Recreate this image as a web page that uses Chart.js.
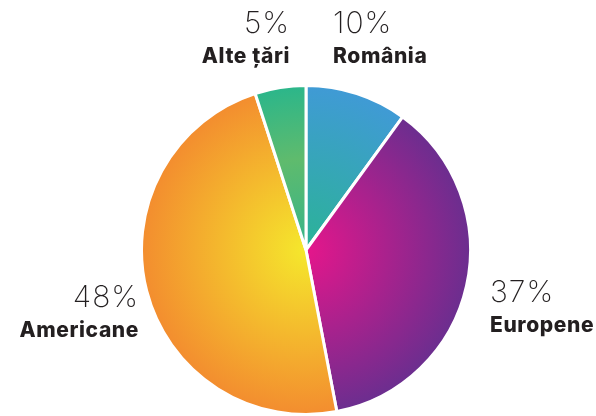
<!DOCTYPE html>
<html>
<head>
<meta charset="utf-8">
<script src="https://cdn.jsdelivr.net/npm/chart.js@4"></script>
<style>
  html, body { margin: 0; padding: 0; background: #fff; }
  #wrap { width: 596px; height: 416px; }
</style>
</head>
<body>
<div id="wrap"><canvas id="pie"></canvas></div>
<script>
const categories = ['România', 'Europene', 'Americane', 'Alte țări']
const shares = [10, 37, 48, 5]
const percentLabels = ['10%', '37%', '48%', '5%']

// radial gradient stops per slice (centre -> rim)
const sliceStops = [
  [[0, '#2bb396'], [1, '#409ad6']],
  [[0, '#e5168b'], [1, '#6a2e8f']],
  [[0, '#f5e82c'], [1, '#f38c2f']],
  [[0, '#35b48a'], [0.55, '#5fbb6d'], [1, '#2ab68b']]
]

// where each label block sits, and how it is aligned
const labelPlaces = [
  { x: 333, y: 33, align: 'left' },
  { x: 490, y: 302, align: 'left' },
  { x: 139, y: 307, align: 'right' },
  { x: 290, y: 33, align: 'right' }
]

function sliceFill(ctx) {
  const chart = ctx.chart
  const area = chart.chartArea
  if (!area) return sliceStops[ctx.dataIndex][0][1]
  const arc = chart.getDatasetMeta(0).data[ctx.dataIndex]
  const cx = arc && arc.x ? arc.x : (area.left + area.right) / 2
  const cy = arc && arc.y ? arc.y : (area.top + area.bottom) / 2
  const r = arc && arc.outerRadius ? arc.outerRadius : Math.min(area.width, area.height) / 2
  const g = chart.ctx.createRadialGradient(cx, cy, 0, cx, cy, r)
  sliceStops[ctx.dataIndex].forEach(([o, c]) => g.addColorStop(o, c))
  return g
}

const labelPlugin = {
  id: 'sliceLabels',
  afterDraw(chart) {
    const c = chart.ctx
    c.save()
    c.fillStyle = '#231f20'
    c.textBaseline = 'alphabetic'
    labelPlaces.forEach((p, i) => {
      c.textAlign = p.align
      c.letterSpacing = '1px'
      c.font = '200 30px Inter, "Open Sans", sans-serif'
      c.fillText(percentLabels[i], p.x, p.y)
      c.letterSpacing = '0.6px'
      c.font = '800 21px Inter, "Open Sans", sans-serif'
      c.fillText(categories[i], p.x, p.y + 30)
    })
    c.restore()
  }
}

new Chart(document.getElementById('pie'), {
  type: 'pie',
  data: {
    labels: categories,
    datasets: [{
      data: shares,
      backgroundColor: sliceFill,
      borderColor: '#ffffff',
      borderWidth: 3
    }]
  },
  options: {
    responsive: true,
    maintainAspectRatio: false,
    animation: false,
    layout: { padding: { top: 84, bottom: 0, left: 16, right: 0 } },
    plugins: {
      legend: { display: false },
      tooltip: { enabled: false }
    }
  },
  plugins: [labelPlugin]
})
</script>
</body>
</html>
